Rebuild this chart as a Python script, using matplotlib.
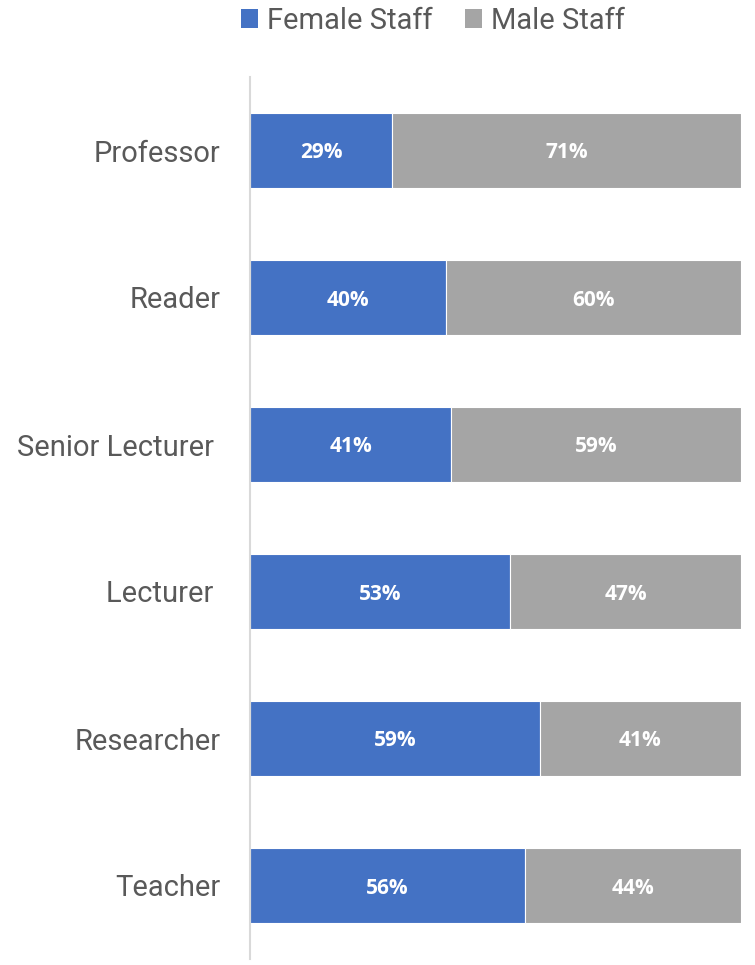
import matplotlib
matplotlib.use("Agg")
import matplotlib.pyplot as plt
from matplotlib.patches import Patch

categories = ["Professor", "Reader", "Senior Lecturer ", "Lecturer ", "Researcher", "Teacher"]
female = [29, 40, 41, 53, 59, 56]
male = [71, 60, 59, 47, 41, 44]
series_names = ["Female Staff", "Male Staff"]

blue = "#4472C4"
grey = "#A5A5A5"
text_grey = "#595959"
label_font = ["Roboto", "DejaVu Sans"]
value_font = ["Open Sans", "DejaVu Sans"]

fig = plt.figure(figsize=(7.55, 9.65), dpi=100)
ax = fig.add_axes([250 / 755, 1 - 959 / 965, 491 / 755, 882 / 965])

ypos = list(range(len(categories)))
ax.barh(ypos, female, height=0.51, color=blue, edgecolor="white", linewidth=0.8)
ax.barh(ypos, male, left=female, height=0.51, color=grey, edgecolor="white", linewidth=0.8)

for y, f, m in zip(ypos, female, male):
    ax.text(f / 2, y, f"{f}%", ha="center", va="center_baseline", color="white",
            fontsize=15, fontweight="bold", family=value_font)
    ax.text(f + m / 2, y, f"{m}%", ha="center", va="center_baseline", color="white",
            fontsize=15, fontweight="bold", family=value_font)

ax.set_xlim(0, 100)
ax.set_ylim(len(categories) - 0.5, -0.5)
ax.set_yticks(ypos)
ax.set_yticklabels(categories, family=label_font, fontsize=21, color=text_grey)
ax.tick_params(axis="y", length=0, pad=21)
ax.set_xticks([])
for s in ["top", "right", "bottom"]:
    ax.spines[s].set_visible(False)
ax.spines["left"].set_color("#D9D9D9")
ax.spines["left"].set_linewidth(1.5)

handles = [Patch(facecolor=blue), Patch(facecolor=grey)]
leg = fig.legend(handles, series_names, loc="center", bbox_to_anchor=(433 / 755, 1 - 21 / 965),
                 ncol=2, frameon=False, handlelength=0.6, handleheight=0.6,
                 handletextpad=0.3, columnspacing=1.1, borderpad=0,
                 prop={"family": label_font, "size": 21})
for t in leg.get_texts():
    t.set_color(text_grey)

fig.savefig("out.png", dpi=100)
